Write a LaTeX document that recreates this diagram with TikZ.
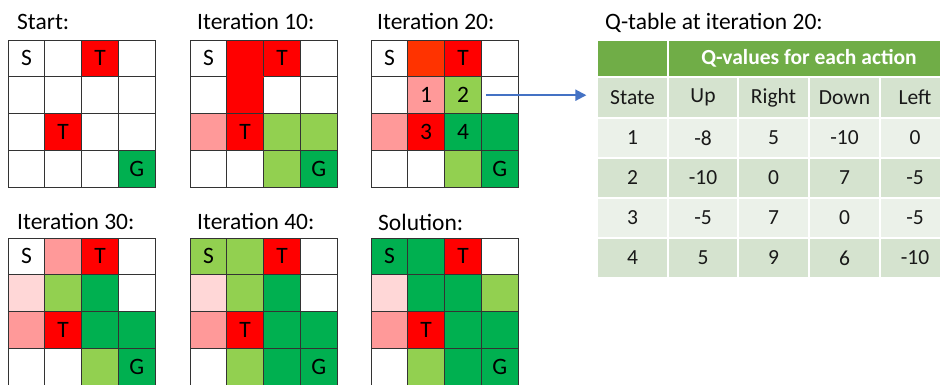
\documentclass[tikz,border=0pt]{standalone}
\usepackage{fontspec}
\setmainfont{Carlito}
\usetikzlibrary{arrows.meta}
\definecolor{tred}{HTML}{FF0000}
\definecolor{tora}{HTML}{FF3300}
\definecolor{tpink}{HTML}{FF9999}
\definecolor{tvl}{HTML}{FFD7D7}
\definecolor{tlg}{HTML}{92D050}
\definecolor{tdg}{HTML}{00B050}
\definecolor{hdr}{HTML}{70AD47}
\definecolor{rowa}{HTML}{D5E3CF}
\definecolor{rowb}{HTML}{EBF1E9}
\definecolor{arrc}{HTML}{4472C4}
\newcommand\mkgrid[4]{%
  \foreach \c/\t [count=\i from 0] in {#4}{%
    \pgfmathtruncatemacro\rr{int(\i/4)}%
    \pgfmathtruncatemacro\cc{mod(\i,4)}%
    \node[cell, fill=\c] (#1-\rr-\cc) at ({#2+(\cc+0.5)*36.8},{#3+(\rr+0.5)*36.8}) {\t};
  }}
\newcommand\trow[8]{%
  \node[tcell,fill=#3,minimum width=71pt] (#1-0) at (632.5,#2) {#4};
  \node[tcell,fill=#3,minimum width=70pt] (#1-1) at (703,#2) {#5};
  \node[tcell,fill=#3,minimum width=71pt] (#1-2) at (773.5,#2) {#6};
  \node[tcell,fill=#3,minimum width=71pt] (#1-3) at (844.5,#2) {#7};
  \node[tcell,fill=#3,minimum width=70pt] (#1-4) at (915,#2) {#8};}
\begin{document}
\begin{tikzpicture}[x=1pt,y=-1pt,
  cell/.style={draw=black!80, line width=0.9pt, minimum width=36.8pt, minimum height=36.8pt, inner sep=0pt, font=\fontsize{23.5}{28}\selectfont, text=black},
  ttl/.style={anchor=base west, inner sep=0pt, font=\fontsize{23.5}{28}\selectfont},
  tcell/.style={draw=white, line width=1.2pt, minimum height=40pt, inner sep=0pt, font=\fontsize{21.5}{26}\selectfont, text=black!90}]
\useasboundingbox (0,0) rectangle (940,385);
% titles
\node[ttl] (t1) at (17,30) {Start:};
\node[ttl] (t2) at (197,30) {Iteration 10:};
\node[ttl] (t3) at (377,30) {Iteration 20:};
\node[ttl] (t4) at (17,229) {Iteration 30:};
\node[ttl] (t5) at (197,229) {Iteration 40:};
\node[ttl] (t6) at (378,230) {Solution:};
\node[ttl] (tq) at (605,30) {Q-table at iteration 20:};
% grids
\mkgrid{g1}{8}{40}{white/S, white/{}, tred/T, white/{}, white/{}, white/{}, white/{}, white/{}, white/{}, tred/T, white/{}, white/{}, white/{}, white/{}, white/{}, tdg/G}
\mkgrid{g2}{190}{40}{white/S, tred/{}, tred/T, white/{}, white/{}, tred/{}, white/{}, white/{}, tpink/{}, tred/T, tlg/{}, tlg/{}, white/{}, white/{}, tlg/{}, tdg/G}
\fill[tred] ([xshift=0.5pt,yshift=1pt]g2-0-1.south west) rectangle ([xshift=-0.5pt,yshift=-1pt]g2-0-1.south east);
\mkgrid{g3}{371}{40}{white/S, tora/{}, tred/T, white/{}, white/{}, tpink/1, tlg/2, white/{}, tpink/{}, tred/3, tdg/4, tdg/{}, white/{}, white/{}, tlg/{}, tdg/G}
\mkgrid{g4}{8}{238}{white/S, tpink/{}, tred/T, white/{}, tvl/{}, tlg/{}, tdg/{}, white/{}, tpink/{}, tred/T, tdg/{}, tdg/{}, white/{}, white/{}, tlg/{}, tdg/G}
\mkgrid{g5}{190}{238}{tlg/S, tlg/{}, tred/T, white/{}, tvl/{}, tlg/{}, tdg/{}, white/{}, tpink/{}, tred/T, tdg/{}, tdg/{}, white/{}, tlg/{}, tdg/{}, tdg/G}
\mkgrid{g6}{371}{238}{tdg/S, tdg/{}, tred/T, white/{}, tvl/{}, tdg/{}, tdg/{}, tlg/{}, tpink/{}, tred/T, tdg/{}, tdg/{}, white/{}, tlg/{}, tdg/{}, tdg/G}
% table
\node[tcell, fill=hdr, minimum width=71pt, minimum height=37pt] (h0) at (632.5,58.5) {};
\node[tcell, fill=hdr, minimum width=282pt, minimum height=37pt, text=white, font=\fontsize{21.5}{26}\selectfont\bfseries] (h1) at (809,58.5) {Q-values for each action};
\trow{st}{97.5}{rowa}{State}{Up}{Right}{Down}{Left}
\trow{r1}{138}{rowb}{1}{-8}{5}{-10}{0}
\trow{r2}{178}{rowa}{2}{-10}{0}{7}{-5}
\trow{r3}{218}{rowb}{3}{-5}{7}{0}{-5}
\trow{r4}{258}{rowa}{4}{5}{9}{6}{-10}
% arrow
\coordinate (aS) at ([xshift=5pt]g3-1-3.west);
\coordinate (aE) at ([xshift=-10pt]st-0.west);
\draw[arrc, line width=2pt, -{Triangle[length=11pt,width=11pt]}] (aS) -- (aS-|aE);
\end{tikzpicture}
\end{document}
